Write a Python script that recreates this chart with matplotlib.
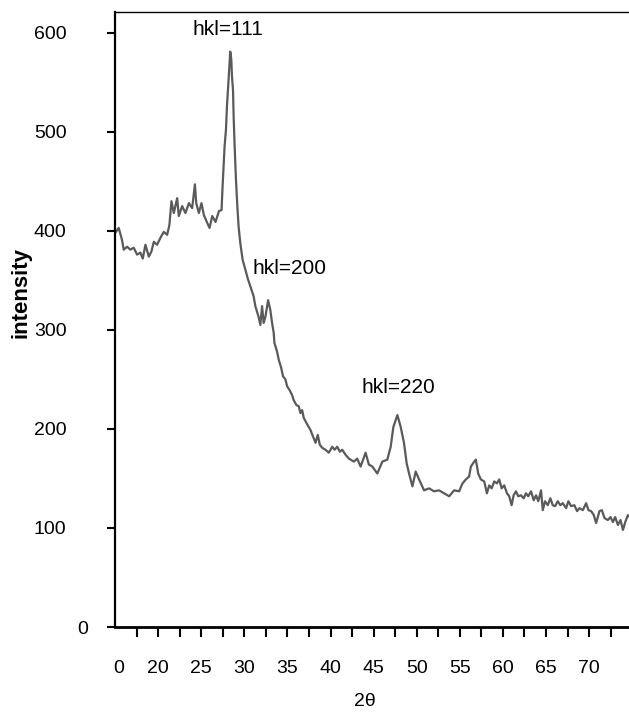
import matplotlib.pyplot as plt
from matplotlib.transforms import ScaledTranslation

### Data
two_theta = [15.12, 15.43, 15.81, 16.01, 16.40, 16.78, 17.17, 17.56, 17.94, 18.22,
             18.53, 18.92, 19.22, 19.50, 19.88, 20.27, 20.66, 21.05, 21.31, 21.55,
             21.82, 22.21, 22.40, 22.79, 23.17, 23.57, 23.95, 24.27, 24.42, 24.73,
             25.03, 25.31, 25.70, 25.97, 26.28, 26.66, 27.06, 27.36,
             27.48, 27.60, 27.71, 27.87, 27.99, 28.10, 28.26, 28.37, 28.49, 28.57,
             28.69, 28.76, 28.88, 29.03, 29.19, 29.34, 29.53, 29.80, 30.12, 30.43,
             30.70, 31.08, 31.28, 31.66, 31.86, 32.06, 32.24, 32.44, 32.76, 33.02,
             33.22, 33.41,
             33.49, 33.80, 33.99, 34.27, 34.50, 34.77, 34.97, 35.27, 35.55, 35.73,
             36.05, 36.31, 36.51, 36.71, 36.90, 37.21, 37.48, 37.67, 37.99, 38.26,
             38.52, 38.76, 39.03, 39.42, 39.80, 40.20, 40.47, 40.78, 41.08, 41.36,
             41.74,
             42.13, 42.71, 43.10, 43.49, 44.07, 44.45, 44.85, 45.43, 46.01, 46.59,
             46.98, 47.29, 47.76, 48.14, 48.52, 48.84, 49.11, 49.50, 49.88, 50.27,
             50.85, 51.43, 52.01, 52.59, 53.17, 53.76, 54.34, 54.92, 55.31, 55.70,
             56.08,
             56.28, 56.67, 56.86, 57.13, 57.44, 57.83, 58.14, 58.41, 58.69, 58.99,
             59.30, 59.57, 59.85, 60.15, 60.47, 60.73, 61.01, 61.24, 61.51, 61.78,
             62.09, 62.41, 62.67, 62.94, 63.26, 63.57, 63.84, 64.10, 64.42, 64.62,
             64.88, 65.20, 65.50, 65.78, 66.05, 66.36, 66.66, 66.94, 67.33, 67.59,
             67.91, 68.29, 68.60, 68.87, 69.27, 69.65, 69.92, 70.23, 70.54, 70.81,
             71.20, 71.48, 71.78, 72.17, 72.48, 72.76, 73.02, 73.34, 73.64, 73.92,
             74.19, 74.50, 74.80]

intensity = [399, 403, 391, 381, 384, 381, 383, 376, 378, 372,
             386, 374, 379, 389, 386, 393, 399, 396, 406, 430,
             418, 433, 415, 425, 418, 428, 423, 447, 428, 418,
             428, 416, 408, 403, 415, 409, 420, 421,
             445, 465, 485, 502, 526, 542, 566, 581, 573, 556,
             542, 516, 485, 452, 425, 404, 388, 371, 361, 351,
             344, 334, 324, 313, 305, 324, 307, 313, 330, 320,
             307, 297,
             287, 278, 270, 262, 253, 250, 243, 239, 234, 229,
             224, 223, 216, 219, 211, 206, 202, 199, 192, 186,
             194, 184, 181, 179, 176, 182, 179, 182, 177, 179,
             174,
             170, 167, 170, 162, 176, 164, 162, 155, 167, 169,
             182, 202, 214, 202, 186, 165, 155, 142, 157, 149,
             138, 140, 137, 138, 135, 132, 138, 137, 145, 149,
             152,
             162, 167, 169, 155, 149, 147, 135, 143, 140, 147,
             145, 149, 140, 143, 135, 132, 123, 133, 137, 132,
             133, 130, 135, 132, 137, 128, 133, 127, 138, 118,
             127, 123, 130, 123, 122, 127, 123, 125, 120, 127,
             122, 123, 117, 120, 118, 125, 118, 117, 113, 105,
             117, 118, 110, 108, 111, 106, 111, 103, 108, 98,
             106, 113, 110]

x_major = [15.4, 20, 25, 30, 35, 40, 45, 50, 55, 60, 65, 70]
x_labels = ['0', '20', '25', '30', '35', '40', '45', '50', '55', '60', '65', '70']
x_minor = [17.5, 22.5, 27.5, 32.5, 37.5, 42.5, 47.5, 52.5, 57.5, 62.5, 67.5, 72.5]
y_major = [0, 100, 200, 300, 400, 500, 600]

peak_labels = ['hkl=111', 'hkl=200', 'hkl=220']
peak_pos    = [(28.1, 603), (35.3, 362), (47.85, 242)]

sans = ['Liberation Sans', 'DejaVu Sans']


def main():
    fig = plt.figure(figsize=(6.29, 7.13), dpi=100)
    ax = fig.add_axes([115/629, 86/713, 1 - 115/629 + 0.002, 615/713])

    ax.plot(two_theta, intensity, color='#5a5a5a', lw=1.6)

    ax.set_xlim(15.0, 74.77)
    ax.set_ylim(0, 621)

    # Spines
    ax.spines['right'].set_visible(False)
    ax.spines['left'].set_linewidth(1.6)
    ax.spines['bottom'].set_linewidth(2.0)
    ax.spines['top'].set_linewidth(1.0)

    # Ticks
    ax.set_xticks(x_major)
    ax.set_xticklabels(x_labels, family=sans, fontsize=14)
    ax.set_xticks(x_minor, minor=True)
    ax.set_yticks(y_major)
    ax.set_yticklabels([str(v) for v in y_major], family=sans, fontsize=14)
    ax.tick_params(axis='x', which='both', direction='out', length=7, width=1.5, pad=17)
    ax.tick_params(axis='y', direction='out', length=6, width=1.5, pad=29)
    ax.get_xaxis().get_major_ticks()[0].tick1line.set_visible(False)

    # the "0" on the y axis sits closer to the spine
    lab0 = ax.get_yticklabels()[0]
    lab0.set_transform(lab0.get_transform() + ScaledTranslation(16/72, 0, fig.dpi_scale_trans))

    for text, (xp, yp) in zip(peak_labels, peak_pos):
        ax.text(xp, yp, text, ha='center', va='center', family=sans, fontsize=15)

    fig.text(365/629, 1 - 702/713, '2θ', ha='center', va='center', family=sans, fontsize=14)
    fig.text(21/629, 1 - 293/713, 'intensity', ha='center', va='center', rotation=90,
             family=sans, fontweight='bold', fontsize=16)

    fig.savefig('out.png', dpi=100)


if __name__ == '__main__':

    main()
